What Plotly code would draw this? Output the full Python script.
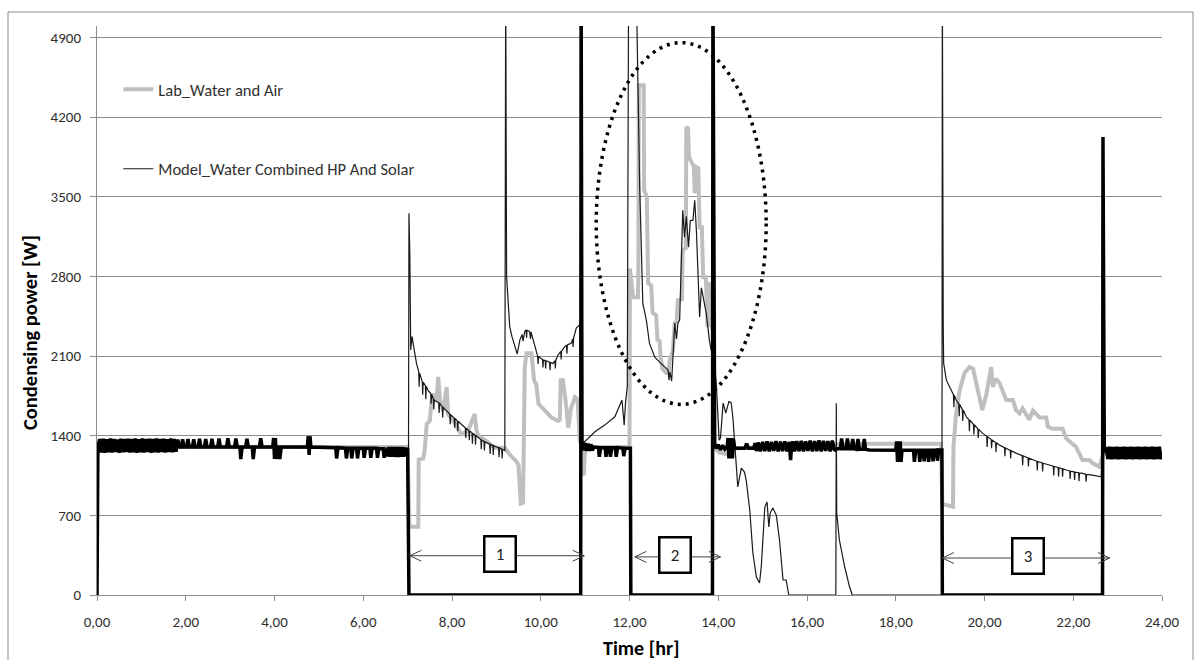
import plotly.graph_objects as go

# ---------------- data ----------------
# Thick black line (lab heat-pump condensing power, not in legend)
HP_T = [0.00, 0.02, 0.06, 0.10, 0.14, 0.18, 0.22, 0.26, 0.30, 0.34, 0.38, 0.42, 0.46, 0.50, 0.54, 0.58,
        0.62, 0.66, 0.70, 0.74, 0.78, 0.82, 0.86, 0.90, 0.94, 0.98, 1.02, 1.06, 1.10, 1.14, 1.18, 1.22,
        1.26, 1.30, 1.34, 1.38, 1.42, 1.46, 1.50, 1.54, 1.58, 1.62, 1.66, 1.70, 1.74, 1.78, 1.82, 1.86,
        1.90, 1.93, 1.96, 2.02, 2.05, 2.08, 2.15, 2.18, 2.21, 2.28, 2.31, 2.34, 2.42, 2.45, 2.48, 2.56,
        2.59, 2.62, 2.72, 2.75, 2.78, 2.92, 2.95, 2.98, 3.10, 3.13, 3.16, 3.22, 3.24, 3.27, 3.35, 3.38,
        3.41, 3.50, 3.52, 3.55, 3.66, 3.69, 3.72, 3.96, 3.98, 4.00, 4.02, 4.04, 4.06, 4.10, 4.12, 4.15,
        4.74, 4.76, 4.78, 4.80, 4.82, 5.38, 5.40, 5.43, 5.60, 5.62, 5.65, 5.72, 5.74, 5.77, 5.85, 5.87,
        5.90, 6.00, 6.02, 6.05, 6.15, 6.17, 6.20, 6.30, 6.32, 6.35, 6.45, 6.47, 6.50, 6.55, 6.58, 6.61,
        6.64, 6.67, 6.70, 6.73, 6.76, 6.79, 6.82, 6.85, 6.88, 6.91, 6.94, 6.97, 7.00, 7.03,
        10.90, 10.91, 10.93, 10.95, 10.98, 11.01, 11.04, 11.07, 11.10, 11.13, 11.16, 11.20, 11.30, 11.32,
        11.35, 11.45, 11.47, 11.50, 11.55, 11.57, 11.60, 11.68, 11.70, 11.73, 11.85, 11.87, 11.90, 12.02,
        12.03,
        13.87, 13.88, 13.92, 13.95, 14.00, 14.05, 14.10, 14.15, 14.20, 14.22, 14.24, 14.26, 14.28, 14.30,
        14.32, 14.34, 14.37, 14.60, 14.64, 14.68, 14.80, 14.83, 14.86, 14.90, 14.95, 15.00, 15.05, 15.10,
        15.15, 15.20, 15.25, 15.30, 15.35, 15.40, 15.45, 15.50, 15.55, 15.60, 15.63, 15.65, 15.68, 15.72,
        15.77, 15.82, 15.87, 15.92, 15.97, 16.02, 16.07, 16.12, 16.17, 16.22, 16.27, 16.32, 16.37, 16.42,
        16.47, 16.52, 16.57, 16.62, 16.66, 16.75, 16.78, 16.81, 16.88, 16.91, 16.94, 17.00, 17.03, 17.06,
        17.12, 17.15, 17.18, 17.26, 17.29, 17.32, 17.40, 18.00, 18.02, 18.04, 18.06, 18.08, 18.10, 18.12,
        18.14, 18.40, 18.42, 18.45, 18.52, 18.54, 18.57, 18.62, 18.64, 18.67, 18.72, 18.74, 18.77, 18.82,
        18.84, 18.87, 18.92, 18.94, 18.97, 19.04, 19.05,
        22.66, 22.67, 22.70, 22.74, 22.78, 22.82, 22.86, 22.90, 22.94, 22.98, 23.02, 23.06, 23.10, 23.14,
        23.18, 23.22, 23.26, 23.30, 23.34, 23.38, 23.42, 23.46, 23.50, 23.54, 23.58, 23.62, 23.66, 23.70,
        23.74, 23.78, 23.82, 23.86, 23.90, 23.94, 23.98, 24.00]
HP_W = [0, 1300, 1370, 1252, 1374, 1250, 1368, 1255, 1376, 1252, 1370, 1256, 1366, 1250, 1374, 1254,
        1370, 1256, 1374, 1251, 1372, 1255, 1376, 1250, 1368, 1254, 1376, 1252, 1370, 1256, 1374, 1250,
        1370, 1254, 1376, 1252, 1370, 1256, 1374, 1251, 1368, 1256, 1376, 1254, 1370, 1258, 1366, 1300,
        1300, 1368, 1300, 1300, 1370, 1300, 1300, 1368, 1300, 1300, 1372, 1300, 1300, 1370, 1300, 1300,
        1372, 1300, 1300, 1375, 1300, 1300, 1378, 1300, 1300, 1375, 1300, 1300, 1195, 1300, 1300, 1372,
        1300, 1300, 1195, 1300, 1300, 1378, 1300, 1300, 1380, 1195, 1380, 1195, 1300, 1300, 1195, 1300,
        1300, 1395, 1230, 1395, 1300, 1295, 1200, 1295, 1290, 1200, 1290, 1290, 1200, 1290, 1290, 1200,
        1290, 1290, 1205, 1290, 1290, 1205, 1290, 1290, 1205, 1285, 1285, 1205, 1285, 1220, 1300, 1215,
        1300, 1215, 1300, 1212, 1300, 1212, 1300, 1215, 1300, 1215, 1295, 1220, 1290, 0,
        0, 5400, 1330, 1345, 1270, 1335, 1265, 1330, 1265, 1325, 1270, 1300, 1295, 1215,
        1295, 1295, 1215, 1295, 1295, 1215, 1295, 1295, 1215, 1295, 1290, 1220, 1290, 1290,
        0,
        0, 5400, 1320, 1290, 1320, 1275, 1315, 1280, 1300, 1380, 1200, 1380, 1200, 1380,
        1200, 1375, 1290, 1290, 1330, 1290, 1290, 1335, 1265, 1340, 1262, 1345, 1265, 1350,
        1262, 1345, 1266, 1352, 1262, 1348, 1265, 1350, 1262, 1345, 1186, 1300, 1350, 1262,
        1352, 1265, 1355, 1262, 1350, 1266, 1356, 1262, 1352, 1265, 1358, 1262, 1355, 1266,
        1352, 1262, 1356, 1268, 1285, 1285, 1376, 1285, 1285, 1376, 1285, 1285, 1370, 1285,
        1280, 1370, 1280, 1280, 1370, 1280, 1275, 1272, 1350, 1170, 1350, 1170, 1350, 1170,
        1272, 1272, 1170, 1272, 1272, 1170, 1272, 1272, 1175, 1272, 1272, 1170, 1272, 1272,
        1175, 1272, 1275, 1180, 1275, 1275, 0,
        0, 4025, 1260, 1300, 1195, 1302, 1192, 1300, 1196, 1303, 1193, 1300, 1195, 1302,
        1192, 1300, 1196, 1303, 1193, 1300, 1195, 1302, 1192, 1300, 1196, 1303, 1193, 1300,
        1195, 1302, 1192, 1300, 1196, 1303, 1193, 1250]

# Grey line: Lab_Water and Air
LAB_T = [0.02, 7.00, 7.04, 7.24, 7.25, 7.35, 7.38, 7.43, 7.50, 7.54, 7.60, 7.65, 7.69, 7.73, 7.80, 7.88,
         7.91, 8.03, 8.21, 8.36, 8.51, 8.55, 8.59, 8.78, 8.96, 9.19, 9.30, 9.45, 9.50, 9.55, 9.60, 9.64,
         9.68, 9.79, 9.85, 9.90, 9.95, 10.09, 10.24, 10.39, 10.43, 10.45, 10.50, 10.56, 10.62, 10.68,
         10.77, 10.83, 10.88, 10.92, 10.97, 11.00, 12.00, 12.01, 12.08, 12.19, 12.20, 12.21, 12.32, 12.33,
         12.39, 12.42, 12.49, 12.52, 12.60, 12.63, 12.68, 12.70, 12.74, 12.83, 12.88, 12.91, 12.98, 13.02,
         13.06, 13.09, 13.18, 13.20, 13.27, 13.28, 13.32, 13.34, 13.39, 13.45, 13.47, 13.50, 13.55, 13.58,
         13.63, 13.66, 13.72, 13.76, 13.80, 13.84, 13.88, 13.90, 14.02, 14.30, 14.38, 16.66, 17.00, 19.02,
         19.05, 19.29, 19.30, 19.36, 19.44, 19.55, 19.66, 19.74, 19.81, 19.89, 19.95, 20.04, 20.15, 20.19,
         20.26, 20.34, 20.41, 20.49, 20.64, 20.71, 20.79, 20.86, 21.01, 21.09, 21.24, 21.39, 21.43, 21.54,
         21.76, 21.84, 22.06, 22.21, 22.36, 22.44, 22.59, 22.63, 22.68, 24.00]
LAB_W = [1300, 1300, 600, 600, 1190, 1200, 1260, 1501, 1531, 1708, 1768, 1708, 1916, 1708, 1620, 1827,
         1590, 1530, 1412, 1440, 1590, 1450, 1400, 1353, 1293, 1293, 1234, 1175, 1140, 804, 810, 2005,
         2124, 2124, 1886, 1850, 1679, 1620, 1560, 1530, 1540, 1886, 1886, 1708, 1471, 1640,
         1738, 1720, 1353, 1320, 1050, 1300, 1300, 2870, 2617, 2617, 2854, 4479, 4479, 3557,
         3500, 2740, 2720, 2480, 2460, 2240, 2230, 2090, 1990, 1950, 1960, 2064, 2152, 2400,
         2389, 2591, 2600, 3030, 3050, 4113, 4100, 3850, 3800, 3762, 3530, 3762, 3750, 3232,
         3232, 2793, 2793, 2354, 2750, 2400, 2300, 1300, 1250, 1230, 1290, 1320, 1330, 1330,
         800, 776, 1302, 1596, 1800, 1950, 2003, 1990, 1862, 1715, 1625, 1760, 2003, 1830,
         1900, 1860, 1780, 1713, 1713, 1625, 1596, 1640, 1540, 1620, 1560, 1560, 1478, 1460,
         1460, 1376, 1302, 1186, 1186, 1157, 1127, 1200, 1250, 1250]

# Thin black line: Model_Water Combined HP And Solar
MOD_T = [0.00, 0.02, 7.00, 7.02, 7.03, 7.05, 7.07, 7.10, 7.15, 7.20,
         7.25, 7.26, 7.27, 7.31, 7.33, 7.34, 7.35, 7.40, 7.41, 7.42, 7.46, 7.52, 7.53, 7.54,
         7.58, 7.59, 7.60, 7.61, 7.70, 7.71, 7.72, 7.78, 7.79, 7.80, 7.84, 7.95, 7.96, 7.97,
         8.05, 8.06, 8.07, 8.12, 8.13, 8.14, 8.21, 8.30, 8.31, 8.32, 8.38, 8.39, 8.40, 8.45,
         8.46, 8.47, 8.52, 8.53, 8.54, 8.59, 8.65, 8.66, 8.67, 8.72, 8.73, 8.74, 8.85, 8.86,
         8.87, 8.92, 8.93, 8.94, 8.96, 9.05, 9.06, 9.07, 9.12, 9.13, 9.14, 9.19, 9.21,
         9.23, 9.30, 9.35, 9.41, 9.47, 9.53, 9.58, 9.60, 9.62, 9.64, 9.67, 9.68, 9.69, 9.75,
         9.77, 9.78, 9.83, 9.90, 9.93, 9.94, 9.95, 10.01, 10.04, 10.05, 10.06, 10.10, 10.11, 10.12,
         10.16, 10.20, 10.21, 10.22, 10.28, 10.32, 10.33, 10.34, 10.39, 10.45, 10.46, 10.47, 10.54,
         10.58, 10.59, 10.60, 10.69, 10.72, 10.73, 10.74, 10.80, 10.88,
         10.92, 10.99, 11.22, 11.44, 11.67, 11.74, 11.83, 11.88, 11.91, 11.95, 11.98, 12.15, 12.23,
         12.30, 12.38, 12.45, 12.57, 12.68, 12.79, 12.87, 12.89, 12.91, 12.95, 12.98, 13.02, 13.06, 13.09,
         13.13, 13.20, 13.24, 13.28, 13.33, 13.37, 13.43, 13.47, 13.51, 13.54, 13.58, 13.62, 13.66, 13.73,
         13.80, 13.84, 13.88, 13.96, 14.02, 14.05, 14.11, 14.17, 14.24, 14.29, 14.33, 14.37, 14.41, 14.44,
         14.52, 14.59, 14.63, 14.71, 14.78, 14.86, 14.93, 14.97, 15.05, 15.10, 15.14, 15.17, 15.23, 15.31,
         15.38, 15.46, 15.53, 15.59, 16.65, 16.66, 16.67, 16.73, 16.85, 16.96, 17.02, 19.04, 19.05,
         19.07, 19.08, 19.14, 19.25, 19.30, 19.31, 19.32, 19.36, 19.42, 19.43, 19.44, 19.50, 19.51,
         19.52, 19.59, 19.65, 19.66, 19.67, 19.75, 19.76, 19.77, 19.85, 19.86, 19.87, 19.96, 20.05,
         20.06, 20.07, 20.15, 20.16, 20.17, 20.25, 20.26, 20.27, 20.34, 20.45, 20.46, 20.47, 20.58,
         20.59, 20.60, 20.71, 20.85, 20.86, 20.87, 20.98, 20.99, 21.00, 21.09, 21.18, 21.19, 21.20,
         21.30, 21.31, 21.32, 21.46, 21.55, 21.56, 21.57, 21.66, 21.67, 21.68, 21.75, 21.76, 21.77,
         21.84, 21.92, 21.93, 21.94, 22.02, 22.03, 22.04, 22.12, 22.13, 22.14, 22.21, 22.28, 22.29,
         22.30, 22.40, 22.63, 22.66, 24.00]
MOD_W = [0, 1300, 1290, 1290, 3355, 2984, 2153, 2272, 2150, 2035,
         1960, 1830, 1950, 1886, 1875, 1760, 1870, 1840, 1720, 1835, 1797, 1770, 1680, 1765,
         1725, 1630, 1718, 1708, 1690, 1600, 1686, 1655, 1560, 1650, 1634, 1590, 1500, 1585,
         1555, 1470, 1552, 1530, 1440, 1527, 1501, 1470, 1380, 1466, 1445, 1360, 1442, 1425,
         1330, 1422, 1405, 1320, 1402, 1382, 1365, 1280, 1362, 1350, 1270, 1347, 1325, 1240,
         1323, 1315, 1230, 1313, 1308, 1295, 1210, 1293, 1282, 1200, 1280, 1270, 5400,
         2806, 2361, 2272, 2183, 2118, 2242, 2290, 2230, 2300, 2317, 2330, 2260, 2325, 2317,
         2250, 2310, 2242, 2124, 2100, 2030, 2095, 2079, 2070, 2000, 2065, 2060, 1990, 2058,
         2050, 2045, 1975, 2042, 2035, 2060, 1990, 2065, 2109, 2140, 2070, 2145, 2183,
         2195, 2120, 2198, 2213, 2250, 2180, 2255, 2346, 2376,
         1350, 1347, 1434, 1493, 1566, 1625, 1713, 1493, 1686, 1830, 5400, 5400, 3586,
         2562, 2415, 2211, 2090, 2046, 2003, 1976, 1888, 1960, 1880, 2152, 2389, 2250, 2389,
         2415, 3381, 3145, 3327, 3057, 3290, 3294, 3469, 3180, 2767, 2442, 2700, 2620, 2475,
         2240, 2150, 2200, 1830, 1361, 1380, 1686, 1598, 1700, 1690, 1560, 1302, 1127, 949,
         1115, 1080, 1010, 747, 369, 158, 105, 250, 773, 817, 597, 720, 764, 700,
         483, 132, 132, 0, 0, 1686, 720, 483, 246, 70, 0, 0, 5400,
         2354, 2036, 1888, 1800, 1760, 1650, 1755, 1713, 1680, 1570, 1675, 1630, 1530,
         1625, 1566, 1540, 1440, 1536, 1500, 1410, 1496, 1460, 1380, 1456, 1420, 1395,
         1300, 1392, 1365, 1290, 1362, 1340, 1255, 1337, 1317, 1295, 1220, 1292, 1270,
         1200, 1268, 1247, 1225, 1140, 1223, 1205, 1130, 1203, 1186, 1175, 1095, 1173,
         1160, 1085, 1158, 1142, 1132, 1050, 1130, 1120, 1040, 1118, 1110, 1040, 1108,
         1098, 1090, 1020, 1088, 1082, 1010, 1080, 1075, 1000, 1073, 1069, 1062, 995,
         1060, 1055, 1039, 1250, 1250]

# Axis ticks
X_TICKS = [0, 2, 4, 6, 8, 10, 12, 14, 16, 18, 20, 22, 24]
X_TICK_TEXT = ["0,00", "2,00", "4,00", "6,00", "8,00", "10,00", "12,00", "14,00", "16,00",
               "18,00", "20,00", "22,00", "24,00"]
Y_TICKS = [0, 700, 1400, 2100, 2800, 3500, 4200, 4900]
Y_TICK_TEXT = ["0", "700", "1400", "2100", "2800", "3500", "4200", "4900"]

# Period annotations (boxes "1", "2", "3" with double arrows)
PERIOD_LABEL = ["1", "2", "3"]
PERIOD_START = [7.05, 12.12, 19.05]
PERIOD_END = [10.98, 14.05, 22.82]
PERIOD_BOX_X = [9.08, 13.03, 20.98]
PERIOD_ARROW_Y = [345, 335, 325]

# Highlight ellipse (period 2)
ELLIPSE_X = [11.25, 15.08]
ELLIPSE_Y = [1675, 4854]

# ---------------- figure ----------------
FONT = "Carlito, Calibri, Lato, sans-serif"
GRID = "#8c8c8c"
TXT = "#303030"

fig = go.Figure()
fig.add_trace(go.Scatter(x=LAB_T, y=LAB_W, mode="lines", name="Lab_Water and Air",
                         line=dict(color="#bfbfbf", width=4), legendgroup="lab"))
fig.add_trace(go.Scatter(x=MOD_T, y=MOD_W, mode="lines", name="Model_Water Combined HP And Solar",
                         line=dict(color="#1a1a1a", width=1.2), legendgroup="model"))
fig.add_trace(go.Scatter(x=HP_T, y=HP_W, mode="lines", name="Lab_HP", showlegend=False,
                         line=dict(color="#000000", width=3.5)))

shapes = []
L, R, T, B = 97, 1162, 26, 595
def px_x(p):
    return (p - L) / (R - L)
def px_y(p):
    return (B - p) / (B - T)
# outer chart border
shapes.append(dict(type="rect", xref="paper", yref="paper", x0=px_x(8), x1=px_x(1193),
                   y0=px_y(675), y1=px_y(12), line=dict(color="#8c8c8c", width=1), layer="below"))
# ellipse
shapes.append(dict(type="circle", xref="x", yref="y", x0=ELLIPSE_X[0], x1=ELLIPSE_X[1],
                   y0=ELLIPSE_Y[0], y1=ELLIPSE_Y[1], line=dict(color="black", width=3.5, dash="3px,5px")))
# double arrows
DX, DY = 0.26, 48
for s, e, y in zip(PERIOD_START, PERIOD_END, PERIOD_ARROW_Y):
    shapes.append(dict(type="line", xref="x", yref="y", x0=s, x1=e, y0=y, y1=y,
                       line=dict(color="#404040", width=1)))
    shapes.append(dict(type="path", xref="x", yref="y",
                       path=f"M {s+DX},{y+DY} L {s},{y} L {s+DX},{y-DY}",
                       line=dict(color="#404040", width=1)))
    shapes.append(dict(type="path", xref="x", yref="y",
                       path=f"M {e-DX},{y+DY} L {e},{y} L {e-DX},{y-DY}",
                       line=dict(color="#404040", width=1)))

annotations = []
for lab, bx, y in zip(PERIOD_LABEL, PERIOD_BOX_X, PERIOD_ARROW_Y):
    annotations.append(dict(x=bx, y=y + 15, xref="x", yref="y", text=lab, showarrow=False,
                            xanchor="center", yanchor="middle",
                            font=dict(family=FONT, size=17, color="#222"),
                            bgcolor="white", bordercolor="black", borderwidth=2.5,
                            width=27, height=31, borderpad=1))
annotations.append(dict(x=px_x(30), y=px_y(333), xref="paper", yref="paper",
                        xanchor="center", yanchor="middle",
                        text="<b>Condensing power [W]</b>", textangle=-90, showarrow=False,
                        font=dict(family=FONT, size=20.5, color="black")))
annotations.append(dict(x=px_x(641), y=px_y(648), xref="paper", yref="paper",
                        xanchor="center", yanchor="middle",
                        text="<b>Time [hr]</b>", showarrow=False,
                        font=dict(family=FONT, size=20, color="black")))

fig.update_layout(
    width=1195, height=660,
    margin=dict(l=L, r=1195 - R, t=T, b=660 - B, pad=0),
    paper_bgcolor="white", plot_bgcolor="white",
    font=dict(family=FONT, size=15, color=TXT),
    showlegend=True,
    legend=dict(x=0.02, y=0.919, xanchor="left", yanchor="top", bgcolor="rgba(0,0,0,0)",
                tracegroupgap=55, font=dict(family=FONT, size=16.5, color=TXT)),
    xaxis=dict(range=[0, 24], tickvals=X_TICKS, ticktext=X_TICK_TEXT, showgrid=False,
               showline=True, linecolor=GRID, linewidth=1, ticks="outside", ticklen=5,
               tickcolor=GRID, zeroline=False, ticklabelstandoff=8,
               tickfont=dict(family=FONT, size=15, color=TXT)),
    yaxis=dict(range=[0, 5000], tickvals=Y_TICKS, ticktext=Y_TICK_TEXT, showgrid=True,
               gridcolor=GRID, gridwidth=1, showline=True, linecolor=GRID, linewidth=1,
               ticks="outside", ticklen=6, tickcolor=GRID, zeroline=False, ticklabelstandoff=6,
               tickfont=dict(family=FONT, size=15, color=TXT)),
    shapes=shapes, annotations=annotations,
)

fig.write_html("out.html", config={"displayModeBar": False},
               post_script="document.body.style.margin='0px';")
